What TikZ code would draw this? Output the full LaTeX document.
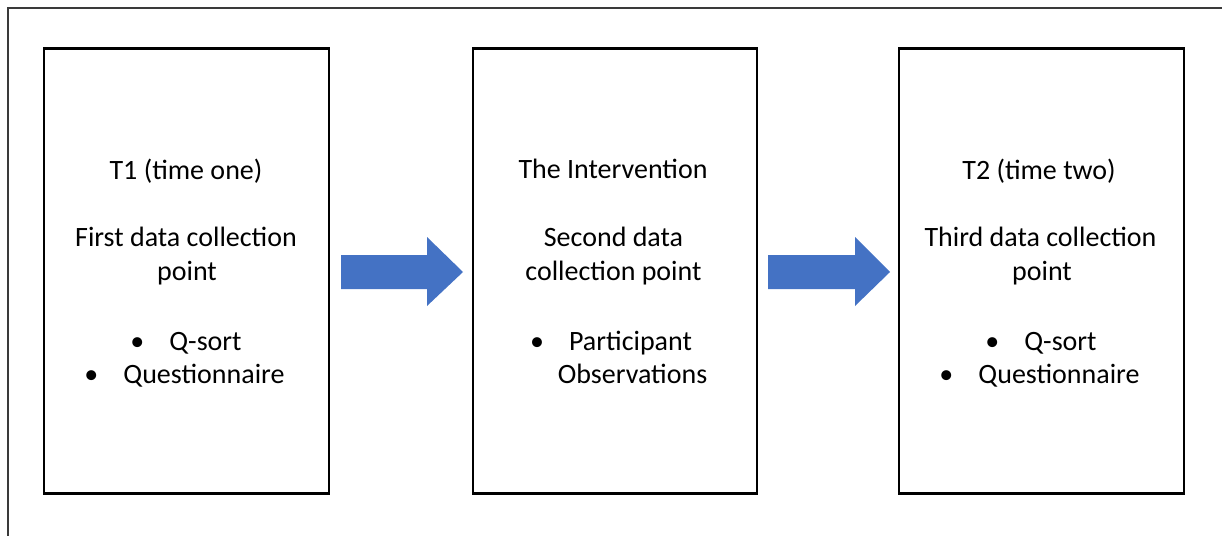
\documentclass[tikz,border=0pt]{standalone}
\usepackage{fontspec}
\setmainfont{Carlito}
\definecolor{arrowblue}{HTML}{4472C4}
\definecolor{framegray}{HTML}{3A3A3A}
\tikzset{
  stagebox/.style={draw=black, line width=2.4pt, fill=white, rectangle, inner sep=0pt},
  txt/.style={anchor=base, inner sep=0pt, font=\fontsize{28}{34}\selectfont},
  blockarrow/.style={fill=arrowblue, draw=none},
}
\newcommand{\bul}[1]{\makebox[39pt][l]{•}#1}
\begin{document}
\begin{tikzpicture}[x=1pt,y=-1pt]
\useasboundingbox (0,0) rectangle (1222,535);
% outer frame (top and left edges)
\coordinate (fbl) at (8,540);
\coordinate (ftl) at (8,8);
\coordinate (ftr) at (1230,8);
\draw[framegray, line width=1.6pt] (fbl) -- (ftl) -- (ftr);
% boxes
\node[stagebox, minimum width=285pt, minimum height=445pt] (b1) at (186.5,271) {};
\node[stagebox, minimum width=284pt, minimum height=445pt] (b2) at (615,271) {};
\node[stagebox, minimum width=285pt, minimum height=445pt] (b3) at (1041.5,271) {};
% arrows
\draw[blockarrow] (341,255) -- (427,255) -- (427,237) -- (463,272) -- (427,306) -- (427,289) -- (341,289) -- cycle;
\draw[blockarrow] (768,255) -- (855,255) -- (855,237) -- (890,272) -- (855,306) -- (855,289) -- (768,289) -- cycle;
% box 1 text
\node[txt] (t1a) at (186,179) {T1 (time one)};
\node[txt] (t1b) at (186,246) {First data collection};
\node[txt] (t1c) at (187,280) {point};
\node[txt] (t1d) at (186,350) {\bul{Q-sort}};
\node[txt] (t1e) at (184.5,383) {\bul{Questionnaire}};
% box 2 text
\node[txt] (t2a) at (613,178) {The Intervention};
\node[txt] (t2b) at (613.5,246) {Second data};
\node[txt] (t2c) at (613.5,280) {collection point};
\node[txt] (t2d) at (611,350) {\bul{Participant}};
\node[txt] (t2e) at (632.5,383) {Observations};
% box 3 text
\node[txt] (t3a) at (1039,179) {T2 (time two)};
\node[txt] (t3b) at (1040.5,246) {Third data collection};
\node[txt] (t3c) at (1042,280) {point};
\node[txt] (t3d) at (1041,350) {\bul{Q-sort}};
\node[txt] (t3e) at (1039.5,383) {\bul{Questionnaire}};
\end{tikzpicture}
\end{document}
